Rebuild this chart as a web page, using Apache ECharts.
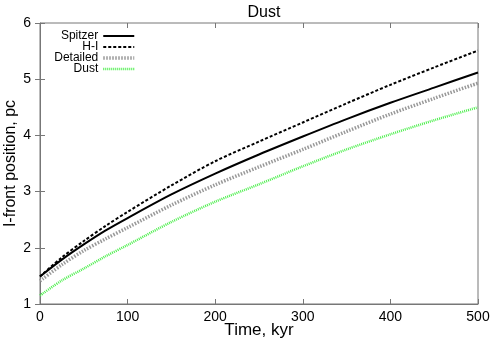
<!DOCTYPE html>
<html>
<head>
<meta charset="utf-8">
<script src="https://cdn.jsdelivr.net/npm/echarts@6/dist/echarts.min.js"></script>
<style>
  html, body { margin: 0; padding: 0; background: #fff; }
  #chart { width: 491px; height: 342px; }
</style>
</head>
<body>
<div id="chart"></div>
<script>
// time, kyr
var times = [0, 25, 50, 75, 100, 150, 200, 250, 300, 350, 400, 450, 500];
// I-front position, pc
var spitzer  = [1.49, 1.79, 2.06, 2.31, 2.53, 2.95, 3.32, 3.66, 3.98, 4.29, 4.58, 4.85, 5.12];
var hI       = [1.49, 1.83, 2.12, 2.39, 2.64, 3.11, 3.54, 3.89, 4.23, 4.57, 4.90, 5.21, 5.51];
var detailed = [1.41, 1.70, 1.95, 2.16, 2.36, 2.76, 3.12, 3.44, 3.75, 4.07, 4.38, 4.66, 4.93];
var dust     = [1.15, 1.42, 1.63, 1.85, 2.05, 2.46, 2.82, 3.13, 3.45, 3.75, 4.02, 4.27, 4.50];
var xTicks = [0, 100, 200, 300, 400, 500];
var yTicks = [1, 2, 3, 4, 5, 6];

var font = 'Liberation Sans';

// line look per series
var styles = {
    'Spitzer':  { color: '#000000', width: 2,   type: 'solid' },
    'H-I':      { color: '#000000', width: 2,   type: [3, 2] },
    'Detailed': { color: '#999999', width: 3.5, type: [1.5, 1.5] },
    'Dust':     { color: '#4cee4c', width: 2.5, type: [1, 1] }
};

function pairs(ys) {
    return times.map(function (t, i) { return [t, ys[i]]; });
}

function mkSeries(name, ys) {
    var s = styles[name];
    return {
        name: name,
        type: 'line',
        data: pairs(ys),
        symbol: 'none',
        smooth: 0.3,
        lineStyle: { color: s.color, width: s.width, type: s.type },
        itemStyle: { color: s.color },
        z: 3
    };
}

var legendData = ['Spitzer', 'H-I', 'Detailed', 'Dust'].map(function (n) {
    var s = styles[n];
    return {
        name: n,
        itemStyle: { opacity: 0 },
        lineStyle: { color: s.color, width: s.width, type: s.type, opacity: 1 }
    };
});

var chart = echarts.init(document.getElementById('chart'));

var tickStyle = { inside: true, length: 5, lineStyle: { color: '#777', width: 1 } };

var option = {
    animation: false,
    title: {
        text: 'Dust',
        left: 259,
        textAlign: 'center',
        top: 0,
        textStyle: { fontFamily: font, fontSize: 16, fontWeight: 'normal', color: '#000' }
    },
    grid: {
        left: 40, right: 13, top: 23, bottom: 38,
        outerBoundsMode: 'none',
        containLabel: false,
        show: true, borderColor: '#777', borderWidth: 1
    },
    legend: {
        orient: 'vertical',
        align: 'right',
        right: 350,
        top: 25,
        itemWidth: 31,
        itemHeight: 8,
        itemGap: -1,
        textStyle: { fontFamily: font, fontSize: 12, color: '#000', lineHeight: 11 },
        data: legendData
    },
    xAxis: [{
        type: 'value',
        min: 0, max: 500, interval: 100,
        name: 'Time, kyr',
        nameLocation: 'middle',
        nameGap: 18,
        nameMoveOverlap: false,
        nameTextStyle: { fontFamily: font, fontSize: 17, color: '#000' },
        axisLine: { lineStyle: { color: '#777' } },
        axisTick: tickStyle,
        axisLabel: { fontFamily: font, fontSize: 14, color: '#000', margin: 6,
            formatter: function (v) { return xTicks.indexOf(v) >= 0 ? String(v) : ''; } },
        splitLine: { show: false }
    }, {
        type: 'value', position: 'top',
        min: 0, max: 500, interval: 100,
        axisLine: { show: false },
        axisTick: tickStyle,
        axisLabel: { show: false },
        splitLine: { show: false }
    }],
    yAxis: [{
        type: 'value',
        min: 1, max: 6, interval: 1,
        name: 'I-front position, pc',
        nameLocation: 'middle',
        nameGap: 21,
        nameMoveOverlap: false,
        nameTextStyle: { fontFamily: font, fontSize: 16, color: '#000' },
        axisLine: { show: true, lineStyle: { color: '#777' } },
        axisTick: tickStyle,
        axisLabel: { fontFamily: font, fontSize: 14, color: '#000', margin: 9,
            formatter: function (v) { return yTicks.indexOf(v) >= 0 ? String(v) : ''; } },
        splitLine: { show: false }
    }, {
        type: 'value', position: 'right',
        min: 1, max: 6, interval: 1,
        axisLine: { show: false },
        axisTick: tickStyle,
        axisLabel: { show: false },
        splitLine: { show: false }
    }],
    series: [
        mkSeries('Spitzer', spitzer),
        mkSeries('H-I', hI),
        mkSeries('Detailed', detailed),
        mkSeries('Dust', dust)
    ]
};

chart.setOption(option);
</script>
</body>
</html>
